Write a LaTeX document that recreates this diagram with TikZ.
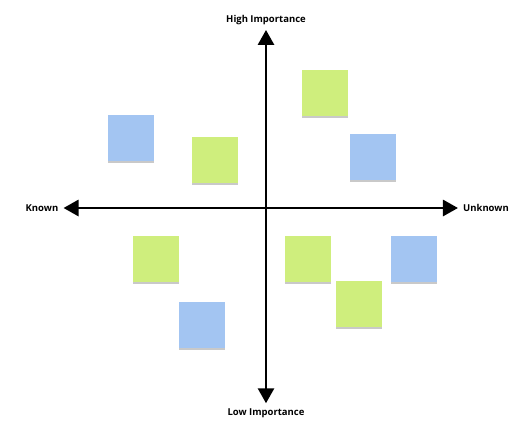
\documentclass[tikz,border=0pt]{standalone}
\usepackage{fontspec}
\setmainfont{Open Sans}
\usetikzlibrary{arrows.meta,shadows}
\definecolor{noteblue}{RGB}{163,197,242}
\definecolor{notegreen}{RGB}{207,238,125}
\begin{document}
\begin{tikzpicture}[
    x=1pt, y=-1pt,
    axis/.style={line width=2.8pt, black, {Triangle[length=15pt,width=16pt]}-{Triangle[length=15pt,width=16pt]}},
    axlabel/.style={font=\bfseries\fontsize{9.5}{11}\selectfont, inner sep=5pt},
    note/.style={minimum size=46pt, inner sep=0pt,
                 drop shadow={opacity=0.35, fill=black!60, shadow xshift=0pt, shadow yshift=-1.6pt, xscale=0.92}},
]
\useasboundingbox (0,0) rectangle (530,442);
\fill[white] (0,0) rectangle (530,442);

% Axis labels
\node[axlabel] (high) at (266, 20) {High Importance};
\node[axlabel] (low) at (266, 413) {Low Importance};
\node[axlabel] (known) at (42, 208) {Known};
\node[axlabel] (unknown) at (486, 208) {Unknown};

% Axes
\draw[axis] (known) -- (unknown);
\draw[axis] (high) -- (low);

% Sticky notes: centre x / centre y / colour
\foreach \x/\y/\c [count=\i] in {131/138/noteblue, 215/160/notegreen,
    325/93/notegreen, 373/157/noteblue, 156/259/notegreen, 202/325/noteblue,
    308/259/notegreen, 359/304/notegreen, 414/259/noteblue}{
  \node[note, fill=\c] (note\i) at (\x, \y) {};
}

\end{tikzpicture}
\end{document}
